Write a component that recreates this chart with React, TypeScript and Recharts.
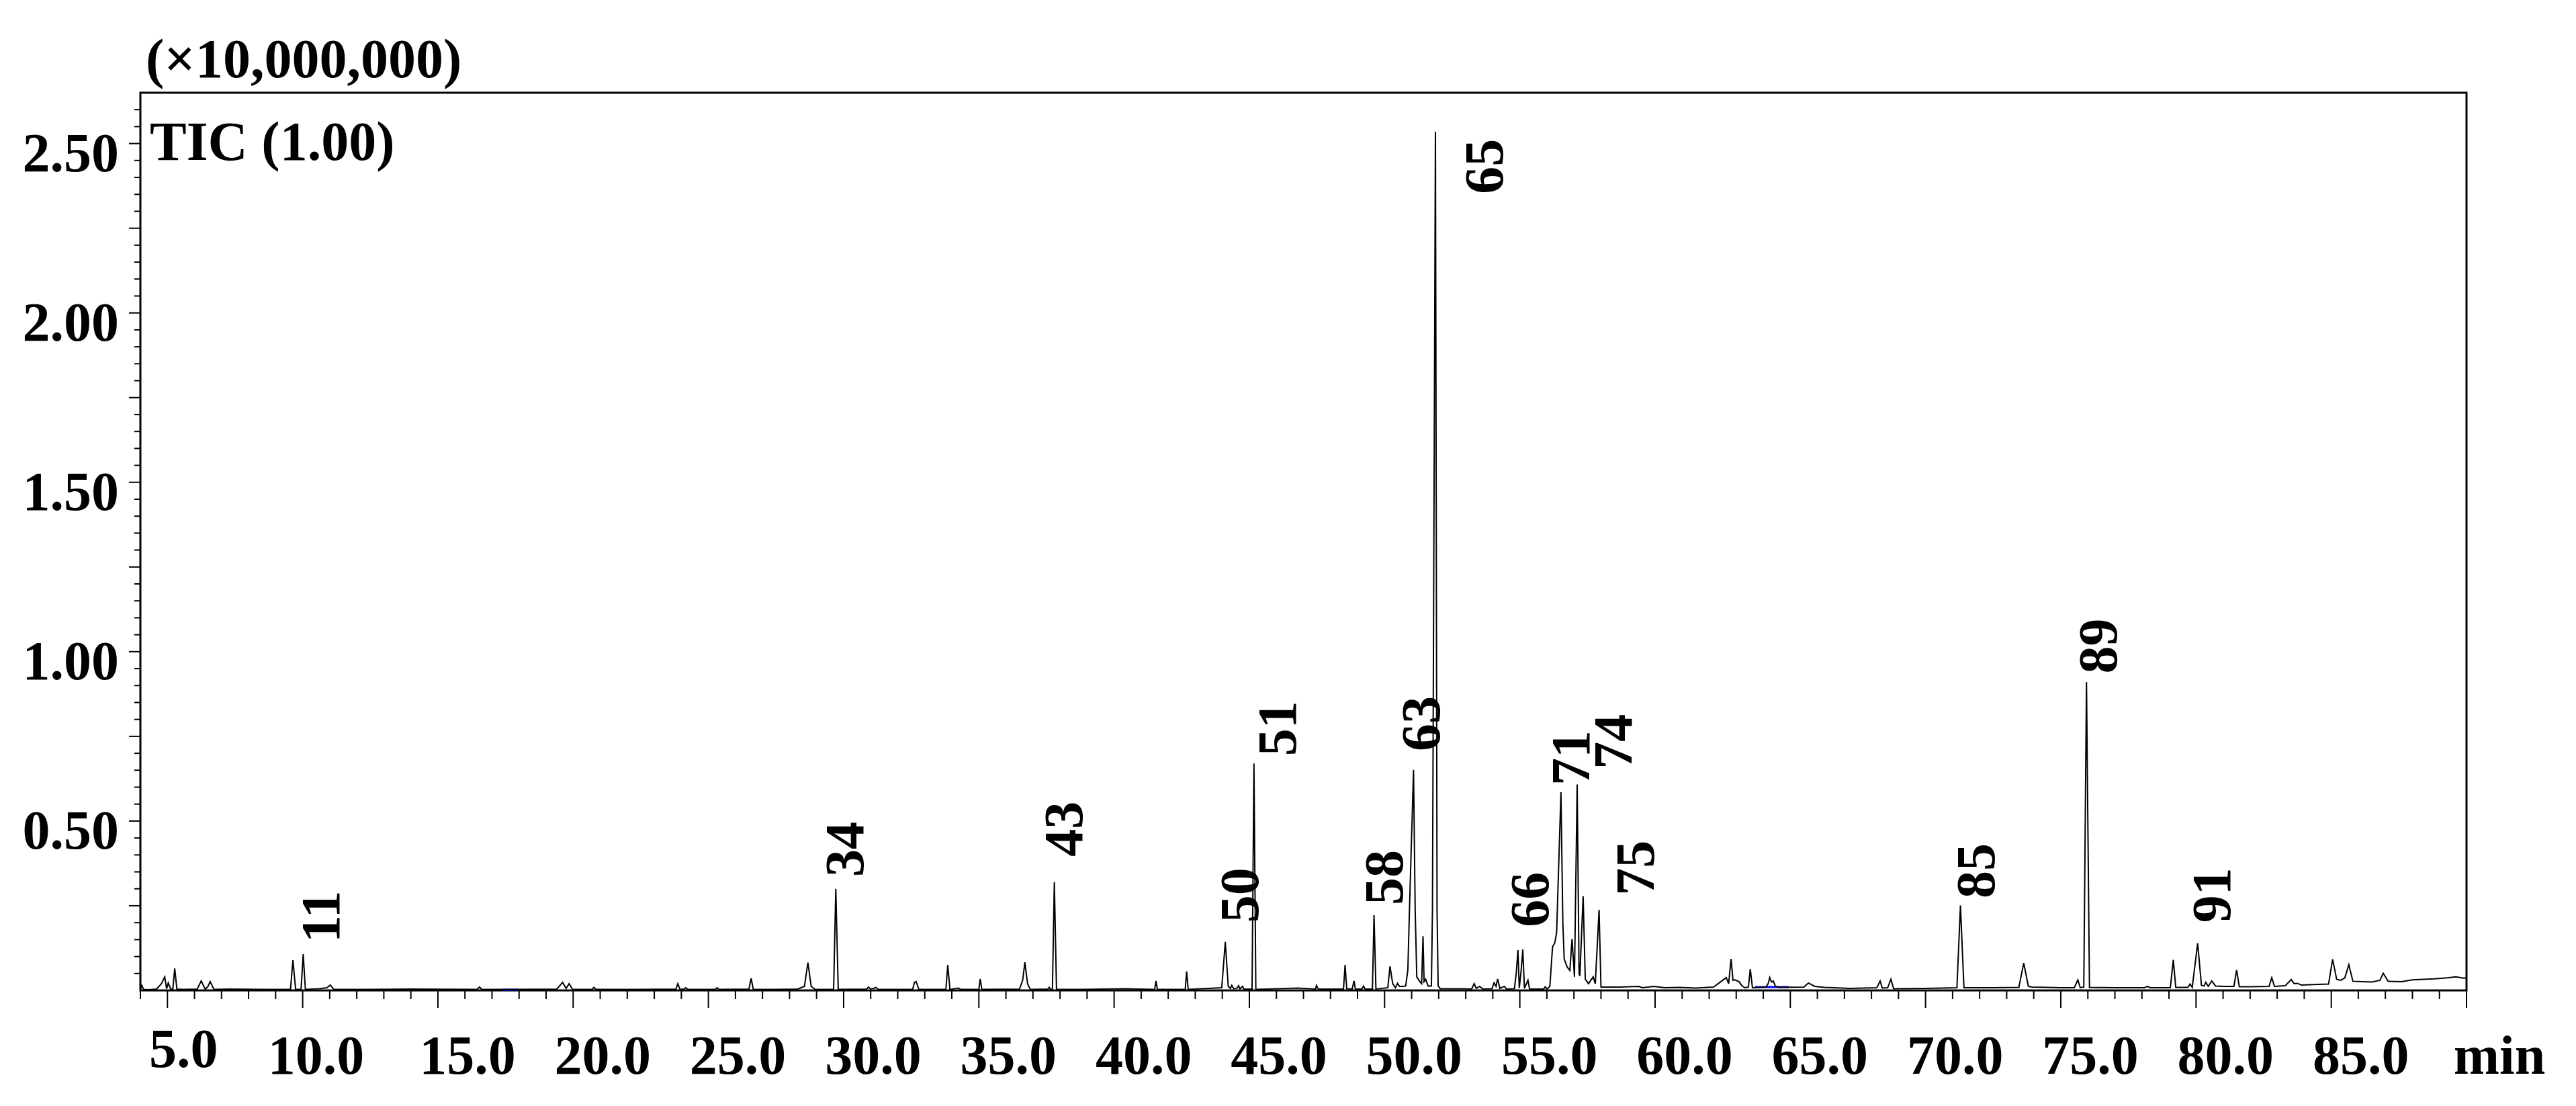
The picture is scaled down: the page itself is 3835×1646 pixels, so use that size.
import React from "react";
import { ComposedChart, Line, Scatter, XAxis, YAxis, ReferenceArea, ReferenceLine } from "recharts";

// retention time (min) and TIC intensity (x10,000,000), split by region
const rtA = [
  4.0, 4.05, 4.12, 4.3, 4.6, 4.78, 4.9, 4.97, 5.03, 5.12,
  5.2, 5.27, 5.35, 5.6, 6.1, 6.25, 6.4, 6.5, 6.58, 6.72,
  7.3, 8.5, 9.55, 9.64, 9.74, 9.94, 10.02, 10.1, 10.6, 10.9,
  11.02, 11.15, 12.5, 14.0, 16.45, 16.54, 16.62, 17.5, 19.4, 19.61,
  19.74, 19.85, 19.98, 20.7, 20.77, 20.85, 22.5, 23.8, 23.87, 23.95,
  24.1, 24.16, 24.25, 25.25, 25.32, 25.4, 26.5, 26.58, 26.66, 27.5,
];
const ticA = [
  0.003, 0.015, 0.003, 0.002, 0.004, 0.02, 0.04, 0.005, 0.022, 0.004,
  0.004, 0.065, 0.004, 0.003, 0.004, 0.028, 0.003, 0.012, 0.026, 0.003,
  0.004, 0.003, 0.003, 0.089, 0.003, 0.003, 0.107, 0.003, 0.005, 0.008,
  0.016, 0.003, 0.003, 0.004, 0.003, 0.01, 0.003, 0.003, 0.004, 0.024,
  0.006, 0.02, 0.003, 0.003, 0.009, 0.003, 0.003, 0.004, 0.02, 0.003,
  0.004, 0.008, 0.003, 0.003, 0.008, 0.003, 0.004, 0.036, 0.003, 0.003,
];

const rtB = [
  28.3, 28.55, 28.68, 28.8, 28.95, 29.63, 29.71, 29.8, 30.85, 30.92,
  31.0, 31.12, 31.19, 31.28, 32.55, 32.62, 32.68, 32.78, 33.78, 33.85,
  33.93, 34.25, 34.32, 35.0, 35.05, 35.11, 36.5, 36.62, 36.7, 36.8,
  36.9, 37.55, 37.6, 37.65, 37.72, 37.79, 37.87, 38.8, 40.4, 41.5,
  41.55, 41.6, 42.63, 42.68, 42.74, 43.98, 44.11, 44.22, 44.3, 44.35,
  44.42, 44.55, 44.6, 44.65, 44.75, 44.8, 45.1, 45.17, 45.24, 46.8,
  47.45, 47.48, 47.55, 48.48, 48.54, 48.6, 48.8, 48.87, 48.92, 49.16,
  49.22, 49.28, 49.55, 49.61, 49.68, 50.12, 50.2, 50.3, 50.4, 50.48,
  50.55, 50.7,
];
const ticB = [
  0.004, 0.012, 0.082, 0.012, 0.003, 0.003, 0.30, 0.003, 0.004, 0.01,
  0.004, 0.006, 0.009, 0.003, 0.003, 0.024, 0.026, 0.003, 0.003, 0.075,
  0.003, 0.007, 0.003, 0.003, 0.034, 0.003, 0.004, 0.03, 0.083, 0.02,
  0.003, 0.004, 0.009, 0.003, 0.004, 0.32, 0.003, 0.003, 0.005, 0.003,
  0.028, 0.003, 0.003, 0.056, 0.003, 0.008, 0.143, 0.012, 0.006, 0.015,
  0.005, 0.007, 0.014, 0.005, 0.012, 0.004, 0.004, 0.67, 0.003, 0.007,
  0.004, 0.015, 0.004, 0.004, 0.075, 0.005, 0.004, 0.028, 0.004, 0.004,
  0.013, 0.004, 0.004, 0.222, 0.004, 0.008, 0.071, 0.02, 0.008, 0.021,
  0.012, 0.012,
];

const rtC = [
  50.78, 50.86, 50.92, 51.07, 51.13, 51.19, 51.3, 51.37, 51.42, 51.46,
  51.52, 51.61, 51.73, 51.77, 51.88, 51.94, 51.98, 52.06, 52.89, 53.22,
  53.31, 53.39, 53.51, 53.64, 53.97, 54.05, 54.12, 54.18, 54.26, 54.43,
  54.51, 54.8, 54.87, 54.93, 54.98, 55.05, 55.11, 55.17, 55.3, 55.36,
  55.88, 55.94, 56.0, 56.11, 56.21, 56.29, 56.36, 56.52, 56.59, 56.64,
  56.75, 56.85, 56.93, 57.02, 57.12, 57.19, 57.22, 57.34, 57.42, 57.54,
  57.71, 57.79, 57.93, 58.0, 58.7, 59.4, 59.53, 59.95,
];
const ticC = [
  0.013, 0.06, 0.24, 0.651, 0.24, 0.04, 0.026, 0.02, 0.16, 0.026,
  0.033, 0.013, 0.013, 0.24, 2.535, 0.24, 0.013, 0.005, 0.005, 0.004,
  0.02, 0.006, 0.012, 0.004, 0.005, 0.023, 0.012, 0.034, 0.006, 0.012,
  0.004, 0.005, 0.053, 0.119, 0.007, 0.06, 0.121, 0.006, 0.03, 0.004,
  0.004, 0.011, 0.004, 0.012, 0.129, 0.14, 0.17, 0.585, 0.2, 0.093,
  0.069, 0.059, 0.152, 0.04, 0.608, 0.05, 0.043, 0.278, 0.033, 0.02,
  0.04, 0.02, 0.238, 0.01, 0.01, 0.012, 0.008, 0.012,
];

const rtD = [
  60.36, 60.9, 61.5, 62.16, 62.5, 62.63, 62.72, 62.81, 62.88, 62.95,
  63.1, 63.2, 63.31, 63.45, 63.52, 63.6, 64.1, 64.18, 64.24, 64.3,
  64.37, 64.45, 64.6, 65.5, 65.67, 65.9, 66.27, 67.2, 68.2, 68.32,
  68.4, 68.6, 68.72, 68.82, 70.0, 71.16, 71.29, 71.42, 72.5, 73.45,
  73.63, 73.8, 73.93, 75.0, 75.5, 75.63, 75.72, 75.85, 75.95, 76.06,
  77.0, 78.1, 78.2, 78.3, 79.05, 79.16, 79.25, 79.7, 79.78, 79.86,
  80.06, 80.2, 80.3, 80.36, 80.45, 80.58, 80.72, 81.0, 81.4, 81.5,
  81.6, 82.0, 82.7, 82.8, 82.9, 83.3, 83.52, 83.63, 83.74, 83.9,
  84.5, 84.9, 85.05, 85.2, 85.35, 85.5, 85.65, 85.8, 86.5, 86.8,
  86.92, 87.1, 87.6, 88.0, 88.8, 89.3, 89.6, 89.9, 90.0,
];
const ticD = [
  0.008, 0.009, 0.007, 0.01, 0.03, 0.038, 0.02, 0.093, 0.03, 0.031,
  0.026, 0.015, 0.008, 0.01, 0.063, 0.008, 0.01, 0.02, 0.038, 0.025,
  0.028, 0.012, 0.009, 0.01, 0.022, 0.012, 0.009, 0.006, 0.008, 0.028,
  0.007, 0.008, 0.033, 0.005, 0.006, 0.008, 0.251, 0.008, 0.008, 0.009,
  0.081, 0.012, 0.01, 0.008, 0.008, 0.031, 0.008, 0.01, 0.91, 0.009,
  0.008, 0.008, 0.012, 0.008, 0.008, 0.09, 0.009, 0.009, 0.019, 0.009,
  0.139, 0.015, 0.013, 0.024, 0.012, 0.028, 0.013, 0.012, 0.012, 0.06,
  0.011, 0.011, 0.012, 0.038, 0.012, 0.014, 0.032, 0.02, 0.021, 0.016,
  0.018, 0.019, 0.092, 0.033, 0.03, 0.037, 0.076, 0.027, 0.025, 0.03,
  0.051, 0.027, 0.026, 0.031, 0.034, 0.037, 0.04, 0.036, 0.037,
];

// peak numbers and where their labels sit (rt, intensity at label foot)
const peakNames = ["11", "34", "43", "50", "51", "58", "63", "65", "66", "71", "74", "75", "85", "89", "91"];
const peakLabelRt = [10.63, 30.0, 38.1, 44.6, 46.0, 49.94, 51.3, 53.64, 55.33, 56.84, 58.4, 59.23, 71.83, 76.35, 80.55];
const peakLabelLevel = [0.141, 0.335, 0.395, 0.2, 0.692, 0.252, 0.706, 2.351, 0.187, 0.605, 0.653, 0.28, 0.272, 0.935, 0.2];

const timeLabelValues = [5, 10, 15, 20, 25, 30, 35, 40, 45, 50, 55, 60, 65, 70, 75, 80, 85, 90];
const timeLabelText = ["5.0", "10.0", "15.0", "20.0", "25.0", "30.0", "35.0", "40.0", "45.0", "50.0", "55.0", "60.0", "65.0", "70.0", "75.0", "80.0", "85.0", "min"];
const intensityLabelValues = [0.5, 1.0, 1.5, 2.0, 2.5];
const intensityLabelText = ["0.50", "1.00", "1.50", "2.00", "2.50"];

const timeTicks = Array.from({ length: 87 }, (_, i) => 4 + i);
const intensityTicks = Array.from({ length: 52 }, (_, i) => Math.round((i + 1) * 5) / 100);

const rtAll = [...rtA, ...rtB, ...rtC, ...rtD];
const ticAll = [...ticA, ...ticB, ...ticC, ...ticD];
const trace = rtAll.map((rt, i) => ({ rt, tic: ticAll[i] }));
const peakLabels = peakNames.map((name, i) => ({ name, rt: peakLabelRt[i], tic: peakLabelLevel[i] }));

const serif = '"Liberation Serif", "Times New Roman", serif';
const FS = 82;

function TimeTick({ x, y, payload }: any) {
  const v = payload.value;
  const major = v % 5 === 0;
  const idx = timeLabelValues.indexOf(v);
  const shift = v === 5 ? 24 : v === 10 ? 20 : v === 90 ? 49 : 44;
  const base = v === 5 ? 114 : 124;
  return (
    <g>
      <line x1={x} x2={x} y1={y} y2={y + (major ? 26 : 13)} stroke="#000" strokeWidth={2} />
      {idx >= 0 && (
        <text x={x + shift} y={y + base} textAnchor="middle" fontFamily={serif} fontWeight="bold" fontSize={FS} fill="#000">
          {timeLabelText[idx]}
        </text>
      )}
    </g>
  );
}

function IntensityTick({ x, y, payload }: any) {
  const v = payload.value;
  const k = Math.round(v * 100);
  const long = k % 25 === 0;
  const idx = intensityLabelValues.findIndex((t) => Math.abs(t - v) < 1e-6);
  return (
    <g>
      <line x1={x - (long ? 17 : 9)} x2={x} y1={y} y2={y} stroke="#000" strokeWidth={2} />
      {idx >= 0 && (
        <text x={x - 32} y={y + 41} textAnchor="end" fontFamily={serif} fontWeight="bold" fontSize={FS} fill="#000">
          {intensityLabelText[idx]}
        </text>
      )}
    </g>
  );
}

function PeakLabel(props: any) {
  const { cx, cy, payload } = props;
  const bx = cx + 29;
  return (
    <text x={bx} y={cy} transform={`rotate(-90 ${bx} ${cy})`} fontFamily={serif} fontWeight="bold" fontSize={FS} fill="#000">
      {payload.name}
    </text>
  );
}

export default function App() {
  return (
    <div style={{ position: "absolute", left: 0, top: 0, width: 3835, height: 1646, background: "#fff" }}>
      <ComposedChart width={3835} height={1646} margin={{ top: 138, right: 163, bottom: 0, left: 0 }}>
        <XAxis
          type="number"
          dataKey="rt"
          domain={[4, 90]}
          ticks={timeTicks}
          interval={0}
          allowDataOverflow
          axisLine={false}
          tickLine={false}
          tickSize={0}
          tickMargin={0}
          height={172}
          tick={<TimeTick />}
        />
        <YAxis
          type="number"
          dataKey="tic"
          domain={[0, 2.65]}
          ticks={intensityTicks}
          interval={0}
          allowDataOverflow
          axisLine={false}
          tickLine={false}
          tickSize={0}
          tickMargin={0}
          width={209}
          tick={<IntensityTick />}
        />
        <ReferenceLine segment={[{ x: 17.4, y: 0.002 }, { x: 17.96, y: 0.002 }]} stroke="#0000ff" strokeWidth={3} />
        <ReferenceLine segment={[{ x: 63.7, y: 0.01 }, { x: 64.95, y: 0.01 }]} stroke="#0000ff" strokeWidth={3} />
        <Line
          data={trace}
          dataKey="tic"
          type="linear"
          stroke="#000"
          strokeWidth={2}
          dot={false}
          activeDot={false}
          isAnimationActive={false}
        />
        <Scatter data={peakLabels} dataKey="tic" shape={PeakLabel} isAnimationActive={false} />
        <ReferenceArea x1={4} x2={90} y1={0} y2={2.65} fill="none" stroke="#000" strokeWidth={3} fillOpacity={0} />
      </ComposedChart>
      <svg width={3835} height={1646} style={{ position: "absolute", left: 0, top: 0, pointerEvents: "none" }}>
        <text x={217} y={115} fontFamily={serif} fontWeight="bold" fontSize={FS} fill="#000">
          (×10,000,000)
        </text>
        <text x={223} y={238} fontFamily={serif} fontWeight="bold" fontSize={FS} fill="#000">
          TIC (1.00)
        </text>
      </svg>
    </div>
  );
}
